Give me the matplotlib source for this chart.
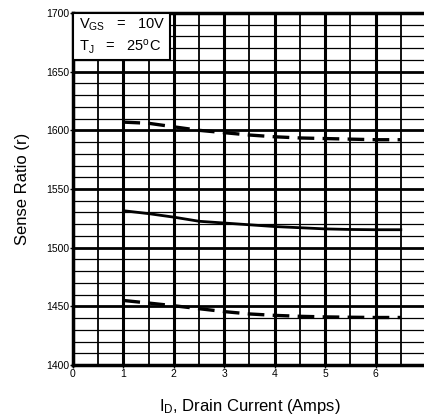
import matplotlib
matplotlib.use('Agg')
import matplotlib.pyplot as plt
import numpy as np
from matplotlib.patches import Rectangle

# sense ratio vs drain current
drain_current = [1.0, 1.5, 2.0, 2.5, 3.0, 3.5, 4.0, 4.5, 5.0, 5.5, 6.0, 6.5]
ratio_max = [1607, 1606, 1603, 1600, 1598, 1596, 1594.5, 1593.5, 1593, 1592.5, 1592, 1592]
ratio_typ = [1531.5, 1529, 1526, 1522.5, 1521, 1519.5, 1518, 1517, 1516, 1515.5, 1515.3, 1515.3]
ratio_min = [1455, 1452.8, 1450.5, 1448, 1445.5, 1443.5, 1442.3, 1441.5, 1441, 1440.7, 1440.5, 1440.5]

x_ticks = [0, 1, 2, 3, 4, 5, 6, 7]
y_ticks = [1400, 1450, 1500, 1550, 1600, 1650, 1700]

plt.rcParams['font.family'] = ['Liberation Sans', 'DejaVu Sans']
plt.rcParams['mathtext.fontset'] = 'custom'
plt.rcParams['mathtext.rm'] = 'Liberation Sans'
plt.rcParams['mathtext.it'] = 'Liberation Sans'

fig = plt.figure(figsize=(4.24, 4.20), dpi=100)
ax = fig.add_axes([73/424, 1 - 365/420, 353/424, 352/420])

ax.set_xlim(0, 7)
ax.set_ylim(1400, 1700)

# grid: thin every 10 / 0.5, heavy every 50 / 1
for y in np.arange(1400, 1701, 10):
    heavy = (y % 50 == 0)
    ax.axhline(y, color='black', lw=2.0 if heavy else 0.9, zorder=1)
for x in np.arange(0, 7.01, 0.5):
    heavy = (x % 1 == 0)
    ax.axvline(x, color='black', lw=2.2 if heavy else 1.3, zorder=1)

ax.plot(drain_current, ratio_max, color='black', lw=2.4, dashes=(5, 2.5), zorder=3)
ax.plot(drain_current, ratio_typ, color='black', lw=2.0, zorder=3)
ax.plot(drain_current, ratio_min, color='black', lw=2.4, dashes=(5, 2.5), zorder=3)

# condition box in the upper left corner
ax.add_patch(Rectangle((0, 1660), 1.93, 40, facecolor='white', edgecolor='black',
                       lw=1.5, zorder=4))
ax.text(0.12, 1690, r'V$_{\rm GS}$   =   10V', fontsize=10.5, va='center', zorder=5)
ax.text(0.12, 1671, r'T$_{\rm J}$   =   25$^{\rm o}$C', fontsize=10.5, va='center', zorder=5)

ax.set_xticks(x_ticks)
ax.set_yticks(y_ticks)
ax.set_xticklabels([str(v) for v in x_ticks], fontsize=7.5)
ax.set_yticklabels([str(v) for v in y_ticks], fontsize=7.5)
ax.tick_params(length=2, width=1, pad=1)

for s in ax.spines.values():
    s.set_linewidth(2.5)

ax.set_xlabel(r'I$_{\rm D}$, Drain Current (Amps)', fontsize=12, labelpad=13)
ax.set_ylabel('Sense Ratio (r)', fontsize=12, labelpad=11)

fig.savefig('out.png', dpi=100)
